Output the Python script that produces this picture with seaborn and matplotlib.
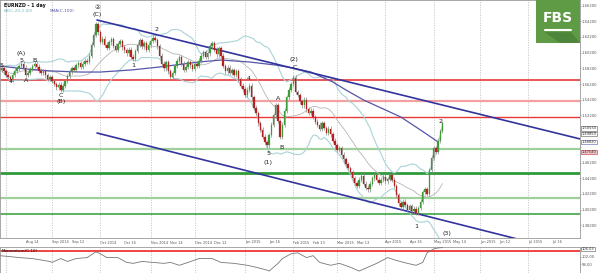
import numpy as np
import pandas as pd
import matplotlib
matplotlib.use("Agg")
import matplotlib.pyplot as plt
import seaborn as sns

# ---------------- data ----------------
start_date = "2014-07-29"
first_open = 1.582
closes = [
    1.580, 1.583, 1.578, 1.574, 1.571, 1.568, 1.574, 1.579, 1.582, 1.585,
    1.588, 1.583, 1.574, 1.576, 1.581, 1.585, 1.588, 1.584, 1.579, 1.576,
    1.578, 1.573, 1.569, 1.571, 1.566, 1.562, 1.558, 1.561, 1.555, 1.560,
    1.566, 1.572, 1.578, 1.582, 1.580, 1.586, 1.589, 1.584, 1.588, 1.592,
    1.590, 1.598, 1.612, 1.625, 1.638, 1.628, 1.616, 1.620, 1.612, 1.608,
    1.615, 1.619, 1.611, 1.606, 1.613, 1.617, 1.609, 1.605, 1.601, 1.606,
    1.597, 1.594, 1.604, 1.612, 1.618, 1.610, 1.614, 1.606, 1.612, 1.617,
    1.621, 1.618, 1.610, 1.598, 1.588, 1.582, 1.590, 1.578, 1.571, 1.576,
    1.585, 1.592, 1.596, 1.588, 1.580, 1.584, 1.590, 1.586, 1.581, 1.588,
    1.585, 1.592, 1.598, 1.603, 1.597, 1.601, 1.610, 1.614, 1.606, 1.600,
    1.608, 1.598, 1.585, 1.578, 1.583, 1.576, 1.580, 1.574, 1.578, 1.568,
    1.560, 1.556, 1.548, 1.555, 1.560, 1.545, 1.532, 1.525, 1.512, 1.504,
    1.495, 1.488, 1.484, 1.497, 1.510, 1.522, 1.535, 1.515, 1.495, 1.510,
    1.528, 1.545, 1.555, 1.562, 1.570, 1.552, 1.548, 1.540, 1.535, 1.542,
    1.530, 1.525, 1.528, 1.520, 1.514, 1.510, 1.505, 1.512, 1.506, 1.500,
    1.505, 1.498, 1.490, 1.484, 1.478, 1.480, 1.472, 1.466, 1.460, 1.455,
    1.450, 1.442, 1.436, 1.432, 1.440, 1.445, 1.435, 1.430, 1.428, 1.435,
    1.442, 1.446, 1.440, 1.436, 1.440, 1.444, 1.438, 1.441, 1.446, 1.440,
    1.432, 1.420, 1.410, 1.405, 1.412, 1.408, 1.402, 1.406, 1.400, 1.403,
    1.398, 1.404, 1.412, 1.424, 1.428, 1.422, 1.452, 1.468, 1.480, 1.476,
    1.490, 1.502, 1.512,
]

sma100_idx = [0, 12, 24, 37, 46, 60, 73, 91, 101, 114, 126, 134, 142, 152, 158, 166, 174, 183, 192, 200]
sma100_val = [1.5850, 1.5812, 1.5786, 1.5773, 1.5773, 1.5799, 1.5837, 1.5901, 1.5926, 1.5901,
              1.5862, 1.5824, 1.5773, 1.5646, 1.5544, 1.5417, 1.5315, 1.5200, 1.5034, 1.4882]

trend_upper_idx = [44.5, 264.8]
trend_upper_val = [1.6436, 1.4920]
trend_lower_idx = [44.5, 242.0]
trend_lower_val = [1.4996, 1.3604]

red_levels = [1.5671, 1.5404, 1.5200]
green_levels = [1.4792, 1.4490, 1.4172, 1.3964]

price_ticks = [1.382, 1.402, 1.422, 1.442, 1.462, 1.482, 1.502, 1.522,
               1.542, 1.562, 1.582, 1.602, 1.622, 1.642, 1.662]
hidden_tick_labels = [1.482, 1.502]   # covered by the price boxes in the reference

date_labels = ["Aug 14", "Sep 2014", "Sep 12", "Oct 2014", "Oct 16", "Nov 2014", "Nov 14",
               "Dec 2014", "Dec 12", "Jan 2015", "Jan 16", "Feb 2015", "Feb 13", "Mar 2015",
               "Mar 13", "Apr 2015", "Apr 16", "May 2015", "May 14", "Jun 2015", "Jun 12",
               "Jul 2015", "Jul 16"]
date_label_days = ["2014-08-14", "2014-09-01", "2014-09-12", "2014-10-01", "2014-10-16",
                   "2014-11-03", "2014-11-14", "2014-12-01", "2014-12-12", "2015-01-01",
                   "2015-01-16", "2015-02-02", "2015-02-13", "2015-03-02", "2015-03-13",
                   "2015-04-01", "2015-04-16", "2015-05-01", "2015-05-14", "2015-06-01",
                   "2015-06-12", "2015-07-01", "2015-07-16"]
month_days = ["2014-08-01", "2014-09-01", "2014-10-01", "2014-11-03", "2014-12-01", "2015-01-01",
              "2015-02-02", "2015-03-02", "2015-04-01", "2015-05-01", "2015-06-01", "2015-07-01"]

wave_labels = [
    (1, 1.5850, "5"), (5, 1.5655, "4"), (10, 1.6010, "(A)"), (10, 1.5920, "5"),
    (12, 1.5660, "A"), (16, 1.5920, "B"), (28, 1.5480, "C"), (28, 1.5400, "(B)"),
    (44.5, 1.6590, "②"), (44.5, 1.6500, "(C)"), (61, 1.5860, "1"), (71.5, 1.6320, "2"),
    (113.5, 1.5690, "4"), (127, 1.5440, "A"), (128.5, 1.4810, "B"), (122.5, 1.4740, "5"),
    (122.5, 1.4620, "(1)"), (134.5, 1.5930, "(2)"), (134.5, 1.5830, "C"),
    (190, 1.3810, "1"), (201, 1.5140, "2"), (204, 1.3710, "(3)"),
]

ind_idx = [0, 5, 9, 15, 23, 24, 28, 31, 35, 40, 44, 46, 49, 54, 58, 61, 65, 70, 75, 78,
           82, 86, 91, 97, 101, 107, 113, 117, 122, 123, 127, 129, 133, 136, 140, 143, 146,
           151, 155, 160, 164, 168, 172, 177, 181, 186, 190, 193, 195, 198, 200, 202]
ind_val = [102.5, 102.0, 101.5, 101.0, 99.5, 99.0, 101.0, 99.5, 101.0, 101.5, 104.5, 103.5,
           101.5, 101.5, 99.0, 98.5, 99.5, 99.0, 98.5, 99.0, 97.5, 99.0, 101.0, 101.0, 99.0,
           98.5, 97.5, 96.5, 95.0, 94.5, 98.5, 101.0, 103.5, 104.0, 101.5, 102.5, 99.0, 97.5,
           98.5, 96.5, 94.5, 96.5, 98.5, 101.5, 100.0, 98.5, 97.5, 99.0, 104.0, 106.0, 106.5,
           106.7]
ind_level = 105.0
ind_ticks = [98.0, 102.0]

# ---------------- derived ----------------
n = len(closes)
dates = pd.bdate_range(start_date, periods=300)
date_to_idx = {d.strftime("%Y-%m-%d"): i for i, d in enumerate(dates)}
idx = np.arange(n)
c = np.array(closes)
o = np.concatenate([[first_open], c[:-1]])
wick = 0.003
hi = np.maximum(o, c) + wick
lo = np.minimum(o, c) - wick
s = pd.Series(c)
mid = s.rolling(20, min_periods=1).mean()
sd = s.rolling(20, min_periods=1).std(ddof=0)
bb = pd.DataFrame({"i": idx, "mid": mid, "up": mid + 2 * sd, "dn": mid - 2 * sd})

# ---------------- plot ----------------
sns.set_style("white")
plt.rcParams["font.family"] = ["DejaVu Sans"]
W, H = 599, 273
fig = plt.figure(figsize=(W / 100, H / 100), dpi=100)
xr = 580
ax = fig.add_axes([0, 1 - 238 / H, xr / W, 238 / H])
ax2 = fig.add_axes([0, 0, xr / W, 26 / H])

x0, x1 = 0.27, 264.7
ax.set_xlim(x0, x1)
ax.set_ylim(1.3658, 1.6691)

for m in month_days:
    ax.axvline(date_to_idx[m], color="#c4c4c4", lw=0.6, ls=(0, (1.5, 1.5)), zorder=0)
    ax2.axvline(date_to_idx[m], color="#c4c4c4", lw=0.6, ls=(0, (1.5, 1.5)), zorder=0)

red_cols = ["#e8383a", "#f4a0a0", "#e8383a"]
red_lw = [1.2, 1.6, 1.0]
for v, col, lw in zip(red_levels, red_cols, red_lw):
    ax.axhline(v, color=col, lw=lw, zorder=1)
green_cols = ["#9ed09a", "#2f9a3a", "#9ed09a", "#3fa647"]
green_lw = [1.6, 2.0, 1.6, 1.2]
for v, col, lw in zip(green_levels, green_cols, green_lw):
    ax.axhline(v, color=col, lw=lw, zorder=1)

sns.lineplot(data=bb, x="i", y="up", ax=ax, color="#a9d3d8", lw=0.8, zorder=2)
sns.lineplot(data=bb, x="i", y="dn", ax=ax, color="#a9d3d8", lw=0.8, zorder=2)
sns.lineplot(data=bb, x="i", y="mid", ax=ax, color="#b5b5b5", lw=0.6, zorder=2)
sns.lineplot(x=sma100_idx, y=sma100_val, ax=ax, color="#5555aa", lw=0.9, zorder=3)
sns.lineplot(x=trend_upper_idx, y=trend_upper_val, ax=ax, color="#33339e", lw=1.2, zorder=3)
sns.lineplot(x=trend_lower_idx, y=trend_lower_val, ax=ax, color="#33339e", lw=1.2, zorder=3)

up = c >= o
ax.vlines(idx, lo, hi, color="#8a8a8a", lw=0.5, zorder=4)
ax.bar(idx[up], (c - o)[up], bottom=o[up], width=0.65, color="#3f9a3a", edgecolor="#3f9a3a",
       lw=0.2, zorder=5)
ax.bar(idx[~up], (c - o)[~up], bottom=o[~up], width=0.65, color="#b52020", edgecolor="#b52020",
       lw=0.2, zorder=5)

for xi, yv, t in wave_labels:
    ax.text(xi, yv, t, fontsize=4.6, ha="center", va="center", color="#222222", zorder=6)

ax.yaxis.tick_right()
ax.set_yticks(price_ticks)
ax.set_yticklabels(["" if v in hidden_tick_labels else f"{v:.5f}" for v in price_ticks],
                   fontsize=2.7, color="#333333")
ax.tick_params(axis="y", length=1.0, width=0.4, pad=0.4, colors="#555555")
ax.set_xticks([date_to_idx[d] for d in date_label_days])
ax.set_xticklabels(date_labels, fontsize=2.5, ha="left", color="#333333")
ax.tick_params(axis="x", length=1.2, width=0.4, pad=0.6, direction="out", colors="#555555")
ax.set_xlabel("")
ax.set_ylabel("")
for sp in ax.spines.values():
    sp.set_color("#999999")
    sp.set_linewidth(0.6)

# price boxes on the axis
boxes = [(1.5055, "#ffffff", "#555555"), (1.4985, "#ffffff", "#555555"),
         (1.4882, "#ffffff", "#5555aa"), (1.4754, "#f3c4c4", "#c03030")]
for v, fc, ec in boxes:
    ax.text(1.003, v, f"{v:.5f}", transform=ax.get_yaxis_transform(), fontsize=2.6,
            ha="left", va="center", color="#333333",
            bbox=dict(boxstyle="square,pad=0.1", fc=fc, ec=ec, lw=0.4), zorder=7)

# header text
fig.text(4 / W, 1 - 5 / H, "EURNZD - 1 day", fontsize=3.4, color="#111111", va="center",
         fontweight="bold")
fig.text(4 / W, 1 - 11 / H, "BB(C,20,2.00)", fontsize=3.1, color="#7fb7c0", va="center")
fig.text(50 / W, 1 - 11 / H, "SMA(C,100)", fontsize=3.1, color="#5555aa", va="center")

# FBS logo
logo = fig.add_axes([536 / W, 1 - 43 / H, 44 / W, 43 / H])
logo.set_xlim(0, 1)
logo.set_ylim(0, 1)
logo.set_facecolor("#5f9a45")
logo.fill([0.2, 0.8, 1.0, 1.0, 0.55], [0.25, 0.25, 0.0, 0.0, 0.0], color="#4d853a", lw=0)
logo.text(0.5, 0.58, "FBS", fontsize=10, fontweight="bold", color="white", ha="center", va="center")
logo.plot([0.2, 0.8], [0.3, 0.3], color="white", lw=1.5)
logo.set_xticks([])
logo.set_yticks([])
for sp in logo.spines.values():
    sp.set_visible(False)

# indicator panel
ax2.set_xlim(x0, x1)
ax2.set_ylim(93.5, 107.0)
ax2.axhline(ind_level, color="#ee2222", lw=1.2, zorder=2)
sns.lineplot(x=ind_idx, y=ind_val, ax=ax2, color="#777777", lw=0.6, zorder=3)
ax2.set_xticks([])
ax2.yaxis.tick_right()
ax2.set_yticks(ind_ticks)
ax2.set_yticklabels([f"{v:.2f}" for v in ind_ticks], fontsize=2.7, color="#333333")
ax2.tick_params(axis="y", length=1.0, width=0.4, pad=0.4, colors="#555555")
ax2.set_xlabel("")
ax2.set_ylabel("")
ax2.text(0.003, 0.93, "Momentum(C,10)", transform=ax2.transAxes, fontsize=3.0,
         color="#111111", va="top", ha="left")
ax2.text(1.003, 106.0, "106.03", transform=ax2.get_yaxis_transform(), fontsize=2.6,
         ha="left", va="center", color="#333333",
         bbox=dict(boxstyle="square,pad=0.1", fc="white", ec="#555555", lw=0.4))
for sp in ax2.spines.values():
    sp.set_color("#999999")
    sp.set_linewidth(0.6)

fig.savefig("out.png", dpi=100)
